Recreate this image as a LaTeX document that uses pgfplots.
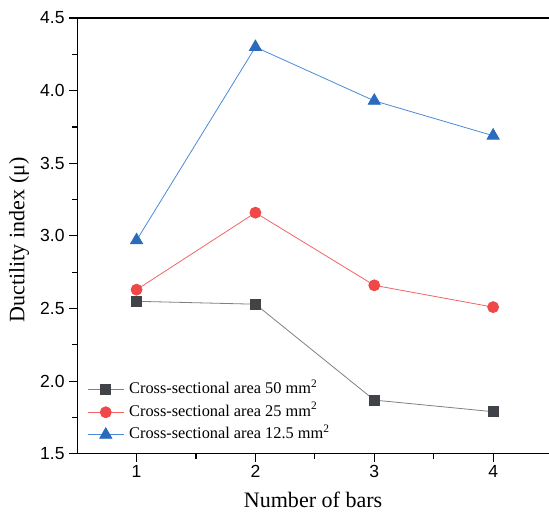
\documentclass[border=0pt]{standalone}
\usepackage{pgfplots}
\pgfplotsset{compat=1.18}
\usepackage{fontspec}
\setmainfont{Liberation Serif}
\newfontfamily\arial{Liberation Sans}
\definecolor{cblack}{HTML}{404448}
\definecolor{cblackl}{HTML}{808080}
\definecolor{cred}{HTML}{F04848}
\definecolor{credl}{HTML}{F26464}
\definecolor{cblue}{HTML}{2A6BBB}
\definecolor{cbluel}{HTML}{4A8AD8}
\begin{document}
\begin{tikzpicture}
\begin{axis}[
  name=ax,
  scale only axis,
  width=471pt, height=435pt,
  xmin=0.5, xmax=4.47,
  ymin=1.5, ymax=4.5,
  axis x line*=bottom, axis y line*=left,
  axis line style={line width=1.2pt, -},
  xtick={1,2,3,4}, minor xtick={1.5,2.5,3.5},
  ytick={1.5,2.0,2.5,3.0,3.5,4.0,4.5},
  minor ytick={1.75,2.25,2.75,3.25,3.75,4.25},
  tick align=outside,
  major tick length=8pt, minor tick length=5pt,
  tick style={line width=1.1pt, black},
  /pgf/number format/assume math mode=true,
  yticklabel style={/pgf/number format/fixed, /pgf/number format/fixed zerofill, /pgf/number format/precision=1, xshift=-1pt},
  tick label style={font=\arial\fontsize{17.5}{19}\selectfont},
  xlabel={Number of bars},
  ylabel={Ductility index (μ)},
  label style={font=\fontsize{22}{24}\selectfont},
  xlabel style={at={(axis description cs:0.5,0)}, anchor=base, yshift=-54pt},
  ylabel style={at={(axis description cs:0,0.5)}, anchor=center, yshift=58pt, xshift=-4pt},
  legend image code/.code={\draw[mark repeat=2, mark phase=2] plot coordinates {(0pt,0pt) (18pt,0pt) (36pt,0pt)};},
  legend style={draw=none, fill=none, at={(0.0212,0.0954)}, anchor=west,
    inner sep=0pt,
    nodes={inner sep=0pt, text height=11pt, text depth=3pt},
    font=\fontsize{16.3}{18}\selectfont, row sep=8.5pt,
    /tikz/every odd column/.append style={column sep=5pt}},
  legend cell align=left,
  clip=false,
]
\addplot[color=cblackl, line width=0.8pt, mark=square*, mark size=5pt, mark options={fill=cblack, draw=cblack, solid}]
  coordinates {(1,2.55) (2,2.53) (3,1.87) (4,1.79)};
\addlegendentry{Cross-sectional area 50 mm\textsuperscript{2}}
\addplot[color=credl, line width=0.8pt, mark=*, mark size=5.5pt, mark options={fill=cred, draw=cred, solid}]
  coordinates {(1,2.63) (2,3.16) (3,2.66) (4,2.51)};
\addlegendentry{Cross-sectional area 25 mm\textsuperscript{2}}
\addplot[color=cbluel, line width=0.8pt, mark=triangle*, mark size=7pt, mark options={fill=cblue, draw=cblue, solid}]
  coordinates {(1,2.97) (2,4.30) (3,3.93) (4,3.69)};
\addlegendentry{Cross-sectional area 12.5 mm\textsuperscript{2}}
\draw[line width=1.2pt] (rel axis cs:0,1) -- (rel axis cs:1,1);
\end{axis}
\pgfresetboundingbox
\path[use as bounding box] ([xshift=-77pt,yshift=-58pt]ax.south west) rectangle ([yshift=18pt]ax.north east);
\end{tikzpicture}
\end{document}
